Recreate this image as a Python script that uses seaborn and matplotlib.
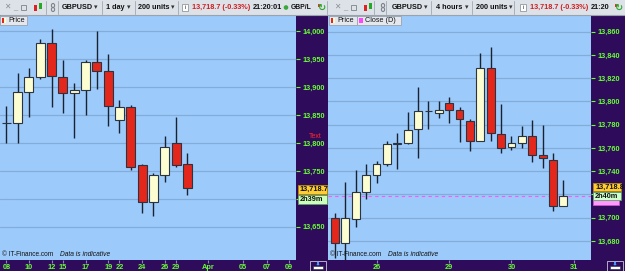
import numpy as np
import matplotlib
matplotlib.use('Agg')
import matplotlib.pyplot as plt
from matplotlib.patches import Rectangle, Circle, Ellipse
import seaborn as sns

sns.set_theme(style='white')
plt.rcParams['font.family'] = ['Liberation Sans', 'DejaVu Sans']

# ---- daily GBPUSD candles (left pane) ----
day_open = [13836, 13836, 13892, 13918, 13979, 13919, 13890, 13895, 13945, 13930,
            13841, 13864, 13760, 13694, 13742, 13800, 13762]
day_high = [13867, 13925, 13934, 13987, 14004, 13949, 13907, 13948, 14001, 13960,
            13878, 13869, 13763, 13747, 13813, 13847, 13783]
day_low = [13801, 13801, 13846, 13915, 13864, 13854, 13809, 13851, 13897, 13830,
           13818, 13751, 13675, 13670, 13730, 13757, 13707]
day_close = [13836, 13892, 13918, 13979, 13921, 13890, 13895, 13945, 13930, 13866,
             13865, 13758, 13694, 13742, 13793, 13761, 13719]
day_tick_pos = [0, 2, 4, 5, 7, 9, 10, 12, 14, 15, 17.85, 20.9, 23, 25]
day_tick_lab = ['08', '10', '12', '15', '17', '19', '22', '24', '26', '29', 'Apr', '05', '07', '09']
day_yticks = [13650, 13700, 13750, 13800, 13850, 13900, 13950, 14000]
day_hidden = [13700]  # label sits under the price tags

# ---- 4-hour GBPUSD candles (right pane) ----
h4_open = [13700, 13678, 13699, 13722, 13737, 13746, 13763, 13764.5, 13776, 13792,
           13790, 13799, 13793, 13783, 13766, 13829, 13772, 13760.5, 13764.5, 13770,
           13754, 13750, 13710]
h4_high = [13704, 13731, 13741, 13746, 13749, 13766, 13773, 13791, 13812, 13800,
           13800, 13803.5, 13795, 13784.5, 13842, 13847, 13797.5, 13770, 13779, 13784,
           13779.5, 13756, 13732]
h4_low = [13665, 13663, 13692, 13716, 13729.5, 13744.5, 13742, 13763, 13751.5, 13776,
          13785.5, 13781.5, 13765.5, 13757, 13766, 13766, 13755.5, 13758, 13759.7, 13748,
          13742.5, 13706, 13710]
h4_close = [13678.5, 13699.5, 13722, 13737, 13746, 13763, 13764.5, 13775.5, 13792, 13791.5,
            13793, 13793, 13784.5, 13766, 13829, 13772.5, 13760, 13764.5, 13770.5, 13754,
            13751, 13710, 13719]
h4_tick_pos = [4, 11, 17, 23]
h4_tick_lab = ['26', '29', '30', '31']
h4_yticks = [13680, 13700, 13720, 13740, 13760, 13780, 13800, 13820, 13840, 13860]
h4_hidden = [13720]
close_d = 13718.7

# colours
PURPLE = '#2f0b5c'
SKY = '#9ccafb'
GRID = '#83acd8'
GREEN = '#66ff33'
BULL = '#fdfdd2'
BEAR = '#e4271d'
EDGE = '#2c3440'
WICK = '#1a2230'

W, H = 625, 271
fig = plt.figure(figsize=(W / 100, H / 100), dpi=100, facecolor=PURPLE)


def box(x, y, w, h):
    return [x / W, 1 - (y + h) / H, w / W, h / H]


def candles(ax, o, hi, lo, c, width):
    o, hi, lo, c = map(np.asarray, (o, hi, lo, c))
    idx = np.arange(len(o))
    up = c >= o
    ax.vlines(idx, lo, hi, color=WICK, lw=1.0, zorder=2)
    ax.bar(idx[up], (c - o)[up], bottom=o[up], width=width, color=BULL,
           edgecolor=EDGE, linewidth=0.8, zorder=3)
    ax.bar(idx[~up], (o - c)[~up], bottom=c[~up], width=width, color=BEAR,
           edgecolor=EDGE, linewidth=0.8, zorder=3)


def style(ax, xlim, ylim, yticks, hidden, xpos, xlab):
    ax.set_facecolor(SKY)
    ax.set_xlim(*xlim)
    ax.set_ylim(*ylim)
    for s in ax.spines.values():
        s.set_visible(False)
    for v in yticks:
        ax.axhline(v, color=GRID, lw=0.9, zorder=1)
    ax.yaxis.tick_right()
    labels = ['' if v in hidden else f'{v:,}' for v in yticks]
    ax.set_yticks(yticks, labels, fontweight='bold')
    ax.tick_params(axis='y', right=True, left=False, length=3, width=0.8,
                   color=GREEN, labelcolor=GREEN, labelsize=5.3, pad=1.5)
    ax.set_xticks(xpos, xlab, fontweight='bold')
    ax.tick_params(axis='x', bottom=True, length=2, width=0.8, color='#8a86b0',
                   labelcolor=GREEN, labelsize=5.3, pad=1.2)
    ax.grid(False)


axL = fig.add_axes(box(0, 16, 296, 244))
candles(axL, day_open, day_high, day_low, day_close, 0.8)
style(axL, (-0.56, 25.6), (13590.5, 14027.7), day_yticks, day_hidden,
      day_tick_pos, day_tick_lab)

axR = fig.add_axes(box(327.5, 16, 263.5, 244))
candles(axR, h4_open, h4_high, h4_low, h4_close, 0.75)
style(axR, (-0.72, 24.66), (13663.6, 13873.5), h4_yticks, h4_hidden,
      h4_tick_pos, h4_tick_lab)
axR.axhline(close_d, color='#ff55ff', lw=0.8, ls=(0, (3, 3)), zorder=1.5)

# ---- overlay in pixel coordinates: toolbars, legends, price tags ----
ov = fig.add_axes([0, 0, 1, 1], zorder=10)
ov.set_xlim(0, W)
ov.set_ylim(H, 0)
ov.axis('off')
ov.patch.set_alpha(0)

ov.add_patch(Rectangle((0, 0), W, 15, fc='#dde2e8', ec='none'))
ov.plot([0, W], [15, 15], color='#9aa3ad', lw=0.8)
for xd in [46, 58, 102, 135, 178, 327, 374, 386, 431, 472, 514]:
    ov.plot([xd, xd], [1, 14], color='#a8b0ba', lw=0.7)

tb = dict(fontsize=5.2, fontweight='bold', va='center', ha='left')


def toolbar(x0, tf, tail, tail_x):
    ov.text(x0 + 4, 7.5, '✕', color='#8a8f96', fontsize=5.5, va='center')
    ov.text(x0 + 13, 7.5, '_', color='#8a8f96', fontsize=5.5, va='center')
    ov.add_patch(Rectangle((x0 + 21, 4.5), 5, 5, fc='none', ec='#8a8f96', lw=0.7))
    ov.add_patch(Rectangle((x0 + 34, 5), 3, 6, fc='#dd2222', ec='none'))
    ov.add_patch(Rectangle((x0 + 39, 3), 3, 6, fc='#22aa22', ec='none'))
    ov.add_patch(Ellipse((x0 + 53, 5.5), 3.2, 4, fc='none', ec='#7d838a', lw=0.8))
    ov.add_patch(Ellipse((x0 + 53, 9.5), 3.2, 4, fc='none', ec='#7d838a', lw=0.8))
    ov.text(x0 + 62, 7.5, 'GBPUSD', color='#111111', **tb)
    ov.text(x0 + 94, 7.5, '▾', color='#333333', fontsize=5, va='center')
    ov.text(x0 + 106, 7.5, tf, color='#111111', **tb)
    ov.text(x0 + tail_x[0], 7.5, '▾', color='#333333', fontsize=5, va='center')
    ov.text(x0 + tail_x[1], 7.5, '200 units', color='#111111', **tb)
    ov.text(x0 + tail_x[1] + 33, 7.5, '▾', color='#333333', fontsize=5, va='center')
    ix = x0 + tail_x[1] + 44
    ov.add_patch(Rectangle((ix, 4), 6, 7, fc='white', ec='#9098a0', lw=0.6))
    ov.text(ix + 3, 7.5, 'i', color='#333333', fontsize=4.5, ha='center', va='center')
    ov.text(ix + 10, 7.5, '13,718.7 (-0.33%)', color='#cc1f1f', **tb)
    ov.text(ix + 71, 7.5, tail, color='#111111', **tb)


toolbar(0, '1 day', '21:20:01', (127, 138))
ov.add_patch(Circle((286, 7.5), 2.3, fc='#3aa83a', ec='none'))
ov.text(291, 7.5, 'GBP/L', color='#111111', fontsize=4.9, fontweight='bold', va='center')
toolbar(330, '4 hours', '21:20', (135, 146))
for rx in [316.5, 613]:
    ov.add_patch(Rectangle((rx - 0.5, 1), 12, 13, fc='#dde2e8', ec='none'))
    ov.text(rx + 5, 7.5, '↻', color='#2faa2f', fontsize=7, ha='center', va='center',
            fontweight='bold')
    ov.add_patch(Rectangle((rx + 1.5, 4), 2, 2.5, fc='#dd3322', ec='none'))

# legend chips
def chip(x, w, label, colors):
    ov.add_patch(Rectangle((x, 15.5), w, 9, fc='#e4e8ee', ec='#9aa3ad', lw=0.6))
    cx = x + 2
    for col in colors:
        ov.add_patch(Rectangle((cx, 17.5), 2.2, 5.5, fc=col, ec='none'))
        cx += 2.2
    ov.text(cx + 2, 20.2, label, color='#111111', fontsize=5.2, va='center')


chip(0, 27, 'Price', [BEAR, BULL])
chip(329, 28, 'Price', [BEAR, BULL])
chip(357, 44, 'Close (D)', ['#ff44ff', '#ff44ff'])

# watermark
for x0 in [2, 330]:
    ov.text(x0, 255, '© IT-Finance.com', fontsize=4.7, color='#111111', va='center')
    ov.text(x0 + 58, 255, 'Data is indicative', fontsize=4.8, color='#111111',
            style='italic', va='center')

# price tags
def tag(x, y, w, h, fc, ec, txt):
    ov.add_patch(Rectangle((x, y), w, h, fc=fc, ec=ec, lw=0.6))
    if txt:
        ov.text(x + 2, y + h / 2 + 0.3, txt, color='#111111', fontsize=5.3,
                fontweight='bold', va='center')


tag(298, 185, 29, 9, '#ffcc33', '#b08a10', '13,718.7')
tag(298, 194.5, 29, 9, '#ccffbb', '#60a060', '2h39m')
tag(593, 199, 26, 6, '#ff99ff', '#cc55cc', '')
tag(593, 182.5, 28, 8.5, '#ffcc33', '#b08a10', '13,718.8')
tag(593, 191.5, 28, 8.5, '#ccffcc', '#60a060', '2h40m')
ov.text(309, 137, 'Text', color='#ff2a2a', fontsize=5, va='center')

# corner buttons
for bx in [310, 607]:
    ov.add_patch(Rectangle((bx, 261), 16, 9.5, fc=PURPLE, ec='#c8c8d8', lw=0.6))
    ov.annotate('', xy=(bx + 8, 261.8), xytext=(bx + 8, 265.5),
                arrowprops=dict(arrowstyle='-|>', color='#4aa0ff', lw=0.8,
                                mutation_scale=3))
    ov.add_patch(Rectangle((bx + 3, 266), 10, 2.5, fc='white', ec='#222244', lw=0.4))

fig.savefig('out.png', dpi=100, facecolor=PURPLE)
